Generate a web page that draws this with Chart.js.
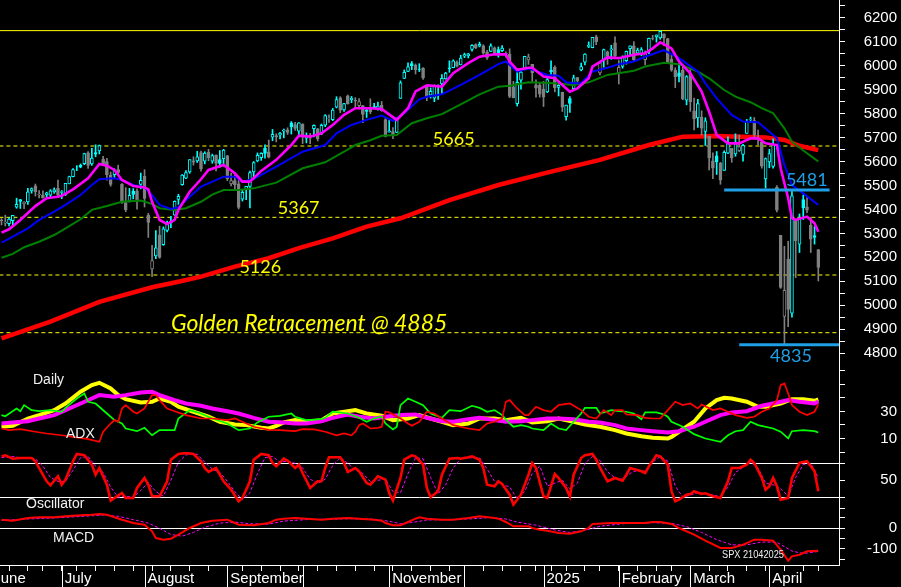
<!DOCTYPE html>
<html>
<head>
<meta charset="utf-8">
<script src="https://cdn.jsdelivr.net/npm/chart.js@4.4.1/dist/chart.umd.min.js"></script>
<style>
    html, body { margin: 0; padding: 0; background: #000; overflow: hidden; }
    #wrap { position: relative; width: 901px; height: 587px; background: #000; }
    #wrap canvas { position: absolute; left: 0; }
</style>
</head>
<body>
<div id="wrap">
    <canvas id="priceChart" width="901" height="365" style="top:0"></canvas>
    <canvas id="adxChart" width="901" height="87" style="top:365px"></canvas>
    <canvas id="oscChart" width="901" height="61" style="top:452px"></canvas>
    <canvas id="macdChart" width="901" height="74" style="top:513px"></canvas>
</div>
<script>
// ===== DATA (SPX daily, June 2024 - 21 April 2025) =====
var holidays = ['2024-06-19', '2024-07-04', '2024-09-02', '2024-11-28', '2024-12-25',
    '2025-01-01', '2025-01-09', '2025-01-20', '2025-02-17', '2025-04-18'];

var monthNames = {
    '2024-06': 'June', '2024-07': 'July', '2024-08': 'August', '2024-09': 'September',
    '2024-10': '', '2024-11': 'November', '2024-12': '', '2025-01': '2025',
    '2025-02': 'February', '2025-03': 'March', '2025-04': 'April'
};

var opens = [
    5297, 5278, 5314, 5357, 5343, 5341, 5353, 5409, 5441, 5424, 5431, 5477, 5499, 5461, 5459, 5461, 5460, 5473, 5488,
    5471, 5461, 5507, 5537, 5572, 5584, 5591, 5636, 5590, 5638, 5644, 5610, 5600, 5544, 5545, 5566, 5505, 5429, 5433, 5477, 5478, 5505,
    5538, 5376, 5151, 5206, 5293, 5253, 5312, 5351, 5376, 5442, 5503, 5531, 5557, 5603, 5603, 5637, 5602, 5639, 5602, 5626, 5608, 5612,
    5624, 5507, 5520, 5507, 5443, 5483, 5496, 5557, 5603, 5616, 5655, 5641, 5702, 5709, 5711, 5727, 5733, 5762, 5755, 5727,
    5757, 5698, 5698, 5737, 5737, 5714, 5752, 5779, 5775, 5827, 5866, 5816, 5875, 5859, 5857, 5833, 5834, 5816, 5827, 5830, 5819, 5835, 5775,
    5723, 5725, 5722, 5864, 5947, 5977, 6009, 6003, 5986, 5989, 5912, 5877, 5865, 5917, 5924, 5945, 5992, 5992, 6015, 6004,
    6040, 6042, 6069, 6089, 6082, 6083, 6057, 6060, 6075, 6068, 6063, 6052, 6048, 5912, 5842, 5940, 5985, 6025, 6006, 5921, 5920,
    5903, 5891, 5982, 5994, 5910, 5890, 5788, 5863, 5905, 5951, 5983, 6015, 6081, 6076, 6121, 5970, 6026, 6058, 6066, 6096,
    5970, 5998, 6021, 6072, 6083, 6053, 6049, 6026, 6060, 6115, 6121, 6117, 6134, 6114, 6027, 5982, 5971, 5981, 5857,
    5969, 5812, 5782, 5785, 5726, 5705, 5603, 5624, 5594, 5563, 5635, 5655, 5632, 5646, 5630, 5718, 5776, 5771, 5696, 5680, 5527,
    5598, 5580, 5492, 5292, 4953, 5193, 4967, 5353, 5255, 5441, 5411, 5335, 5291, 5232
];
var highs = [
    5302, 5298, 5354, 5362, 5376, 5365, 5375, 5447, 5442, 5433, 5488, 5490, 5506, 5479, 5478, 5472, 5483, 5490, 5523,
    5479, 5509, 5539, 5571, 5583, 5590, 5635, 5642, 5655, 5670, 5669, 5622, 5614, 5556, 5570, 5585, 5508, 5491, 5488, 5487, 5486, 5552,
    5566, 5384, 5250, 5312, 5330, 5327, 5351, 5371, 5436, 5463, 5546, 5562, 5608, 5620, 5643, 5644, 5641, 5651, 5631, 5628, 5646, 5651,
    5626, 5552, 5546, 5523, 5484, 5497, 5560, 5600, 5636, 5637, 5670, 5690, 5734, 5716, 5722, 5736, 5741, 5767, 5764, 5763,
    5758, 5720, 5718, 5753, 5739, 5757, 5796, 5795, 5822, 5871, 5871, 5843, 5878, 5872, 5867, 5863, 5834, 5817, 5862, 5843, 5848, 5851, 5780,
    5772, 5742, 5783, 5937, 5983, 6012, 6018, 6008, 6009, 5993, 5916, 5908, 5920, 5921, 5963, 5973, 6021, 6025, 6021, 6044,
    6053, 6052, 6089, 6092, 6099, 6088, 6065, 6092, 6079, 6079, 6085, 6058, 6071, 5935, 5982, 5978, 6040, 6049, 6006, 5941, 5929,
    5935, 5949, 6021, 6000, 5927, 5890, 5836, 5871, 5961, 5952, 6011, 6051, 6100, 6119, 6128, 6017, 6070, 6062, 6086, 6121,
    6022, 6042, 6062, 6084, 6101, 6074, 6076, 6063, 6116, 6127, 6129, 6147, 6134, 6115, 6044, 5992, 6009, 5994, 5959,
    5987, 5865, 5860, 5812, 5783, 5706, 5636, 5642, 5597, 5645, 5703, 5655, 5716, 5711, 5672, 5776, 5786, 5784, 5732, 5685, 5615,
    5651, 5695, 5500, 5292, 5246, 5267, 5481, 5353, 5381, 5460, 5450, 5367, 5328, 5232
];
var lows = [
    5234, 5257, 5299, 5335, 5331, 5331, 5331, 5405, 5404, 5403, 5421, 5468, 5456, 5448, 5447, 5446, 5452, 5467, 5451,
    5445, 5458, 5507, 5536, 5562, 5574, 5587, 5571, 5584, 5620, 5632, 5583, 5522, 5497, 5529, 5548, 5425, 5390, 5431, 5444, 5401, 5486,
    5410, 5283, 5119, 5194, 5196, 5250, 5306, 5324, 5376, 5421, 5501, 5528, 5551, 5585, 5596, 5560, 5590, 5603, 5593, 5561, 5576, 5581,
    5520, 5498, 5487, 5402, 5435, 5441, 5406, 5535, 5599, 5605, 5614, 5615, 5687, 5682, 5695, 5699, 5713, 5715, 5730, 5704,
    5675, 5678, 5675, 5703, 5686, 5712, 5746, 5763, 5771, 5824, 5804, 5809, 5840, 5846, 5824, 5820, 5762, 5784, 5800, 5822, 5815, 5810, 5703,
    5723, 5696, 5721, 5864, 5947, 5976, 5984, 5966, 5976, 5943, 5854, 5865, 5850, 5860, 5883, 5944, 5973, 5992, 5995, 6004,
    6034, 6033, 6061, 6072, 6079, 6048, 6027, 6059, 6051, 6036, 6059, 6036, 5867, 5866, 5832, 5902, 5983, 6006, 5933, 5869, 5869,
    5830, 5888, 5960, 5891, 5874, 5809, 5773, 5805, 5905, 5929, 5979, 6004, 6076, 6075, 6088, 5962, 5994, 6006, 6027, 6030,
    5924, 5990, 6007, 6046, 6020, 6048, 6042, 6004, 6051, 6108, 6099, 6111, 6084, 6009, 5977, 5909, 5933, 5858, 5837,
    5810, 5732, 5743, 5711, 5667, 5565, 5529, 5546, 5505, 5563, 5633, 5597, 5622, 5641, 5602, 5718, 5764, 5704, 5671, 5572, 5489,
    5574, 5572, 5390, 5070, 4835, 4910, 4950, 5115, 5220, 5358, 5386, 5220, 5255, 5101
];
var closes = [
    5283, 5291, 5354, 5352, 5347, 5360, 5375, 5421, 5433, 5431, 5473, 5487, 5473, 5464, 5448, 5469, 5478, 5482, 5460,
    5475, 5509, 5537, 5567, 5572, 5577, 5633, 5584, 5615, 5631, 5667, 5588, 5545, 5505, 5564, 5555, 5427, 5399, 5459, 5463, 5436, 5522,
    5446, 5346, 5186, 5240, 5199, 5319, 5344, 5344, 5434, 5455, 5543, 5554, 5608, 5597, 5620, 5570, 5635, 5616, 5625, 5592, 5592, 5648,
    5528, 5520, 5503, 5408, 5471, 5496, 5554, 5596, 5626, 5634, 5634, 5618, 5714, 5703, 5718, 5732, 5722, 5745, 5738, 5762,
    5709, 5710, 5700, 5751, 5696, 5751, 5792, 5780, 5815, 5859, 5815, 5842, 5841, 5864, 5853, 5851, 5797, 5809, 5808, 5823, 5832, 5813, 5705,
    5728, 5712, 5782, 5929, 5973, 5996, 6001, 5984, 5985, 5949, 5870, 5893, 5917, 5917, 5948, 5970, 5987, 6021, 5999, 6032,
    6047, 6050, 6086, 6075, 6090, 6053, 6034, 6084, 6051, 6051, 6074, 6050, 5872, 5867, 5931, 5974, 6040, 6037, 5971, 5907, 5882,
    5869, 5942, 5975, 5909, 5918, 5827, 5836, 5843, 5950, 5937, 5997, 6049, 6086, 6119, 6101, 6012, 6068, 6039, 6071, 6041,
    5994, 6037, 6061, 6083, 6026, 6066, 6068, 6051, 6115, 6114, 6129, 6144, 6117, 6013, 5983, 5955, 5956, 5861, 5955,
    5850, 5778, 5842, 5739, 5770, 5615, 5572, 5599, 5522, 5639, 5675, 5615, 5675, 5663, 5668, 5768, 5777, 5712, 5693, 5581, 5612,
    5633, 5671, 5397, 5074, 5062, 4982, 5457, 5268, 5363, 5406, 5397, 5276, 5283, 5158
];

// moving averages: [trading day index, value]
var ma200 = [[3,4861],[16,4931],[29,5014],[43,5075],[50,5098],[56,5119],[65,5161],[74,5196],[82,5238],[91,5279],[100,5328],[109,5363],[122,5439],[135,5502],[149,5558],[162,5607],[175,5669],[184,5704],[193,5707],[206,5701],[211,5690],[215,5666],[220,5648]];
var maGreen = [[3,5198],[6,5214],[9,5242],[13,5265],[17,5293],[20,5321],[24,5359],[27,5398],[31,5414],[35,5432],[40,5437],[43,5423],[45,5405],[49,5398],[52,5405],[56,5432],[59,5462],[62,5481],[66,5481],[70,5488],[76,5512],[83,5572],[89,5597],[94,5641],[97,5669],[101,5689],[104,5708],[108,5711],[112,5760],[116,5781],[120,5798],[125,5839],[130,5881],[135,5913],[138,5917],[143,5931],[150,5927],[155,5920],[159,5931],[164,5962],[171,5979],[174,5997],[179,6013],[183,6007],[188,5976],[191,5948],[195,5899],[198,5871],[202,5848],[205,5823],[208,5802],[211,5739],[213,5683],[217,5635],[220,5600]];
var maBlue = [[3,5261],[6,5286],[10,5321],[13,5356],[17,5391],[20,5419],[24,5460],[27,5502],[29,5526],[33,5530],[35,5523],[38,5502],[41,5492],[43,5460],[45,5419],[48,5402],[50,5409],[53,5453],[56,5495],[58,5509],[62,5537],[65,5537],[67,5516],[70,5527],[76,5579],[83,5641],[89,5669],[92,5718],[96,5753],[100,5774],[104,5792],[107,5770],[110,5802],[114,5860],[116,5871],[120,5881],[125,5920],[130,5962],[135,6007],[137,6018],[140,5976],[143,5990],[148,5962],[151,5959],[153,5931],[155,5927],[157,5927],[160,5976],[164,5992],[167,6007],[171,6018],[174,6038],[179,6066],[183,6032],[188,5976],[190,5927],[193,5864],[197,5795],[200,5767],[204,5764],[207,5725],[209,5697],[211,5586],[213,5502],[216,5467],[220,5419]];
var maMagenta = [[3,5303],[5,5317],[8,5356],[12,5414],[15,5447],[18,5453],[19,5457],[22,5484],[26,5530],[29,5590],[31,5583],[33,5565],[35,5523],[38,5498],[41,5492],[42,5484],[43,5432],[45,5356],[47,5339],[49,5356],[50,5398],[53,5474],[56,5526],[58,5565],[62,5586],[65,5551],[67,5516],[69,5516],[72,5561],[76,5607],[80,5669],[82,5708],[85,5704],[88,5718],[91,5753],[94,5795],[97,5823],[101,5823],[104,5820],[108,5774],[111,5823],[113,5893],[116,5918],[120,5913],[123,5969],[127,6011],[130,6038],[134,6048],[137,6048],[138,6018],[140,5983],[143,5992],[144,5992],[147,5955],[150,5948],[152,5920],[154,5892],[156,5906],[159,5948],[160,5997],[164,6035],[167,6032],[171,6046],[174,6052],[176,6073],[178,6098],[181,6073],[183,6018],[186,5969],[189,5892],[191,5808],[193,5711],[196,5676],[199,5676],[202,5697],[204,5697],[206,5676],[209,5669],[210,5572],[212,5447],[213,5363],[214,5356],[217,5370],[219,5342],[220,5307]];

// levels drawn on the price panel
var topLevel = 6147;
var fibLevels = [5665, 5367, 5126, 4885];
var supportLevels = [[5481, 195, 223], [4835, 199, 230]];

// ADX panel
var adxLine = [[3,18.7],[6,19.4],[10,24.8],[13,27.3],[17,31],[20,35.9],[24,44.6],[27,49.5],[29,51.2],[32,47],[34,42.1],[36,39.1],[40,36.7],[43,37.2],[45,39.6],[48,37.2],[50,33.5],[54,29.8],[58,26.1],[61,22.4],[65,20.4],[68,19.9],[72,17.9],[74,17.4],[76,19.4],[78,21.9],[81,23.6],[84,22.4],[88,23.6],[91,28.5],[95,30.2],[97,31],[100,28.5],[104,26.8],[107,23.6],[111,24.8],[114,27.3],[117,24.8],[120,22.4],[123,19.9],[127,21.1],[130,24.8],[134,24.8],[137,23.6],[141,25.3],[144,21.9],[148,22.8],[151,24.8],[155,22.4],[158,20.4],[162,18.7],[166,16.2],[169,13.7],[173,11.7],[176,10.5],[180,10],[181,11.2],[183,15],[187,22.4],[190,32.2],[193,38.4],[195,40.1],[197,39.6],[201,37.2],[204,33.5],[206,33.5],[210,35.9],[213,39.1],[216,39.1],[219,37.9],[220,38.9]];
var adxrLine = [[3,21.1],[6,21.9],[10,22.8],[13,24.8],[17,27.3],[20,31],[24,35.9],[27,39.6],[29,42.1],[33,40.9],[36,42.1],[40,44.1],[43,44.6],[45,42.1],[49,38.4],[52,35.9],[56,34.2],[59,32.2],[63,30.2],[66,28.5],[70,25.3],[74,22.4],[78,21.9],[81,21.1],[84,21.1],[88,22.8],[91,25.3],[95,27.8],[98,26.1],[102,24.8],[105,26.1],[109,27.3],[113,27.8],[116,25.3],[120,22.8],[123,22.4],[127,24.3],[130,25.3],[134,23.6],[137,22.4],[141,22.8],[144,23.6],[148,24.8],[151,24.8],[155,24.3],[159,22.4],[162,21.9],[166,19.9],[169,17.4],[173,16.2],[176,15.4],[180,14.4],[183,15.4],[187,18.7],[190,22.4],[194,27.3],[197,29.3],[201,30.2],[205,34.2],[208,35.9],[212,38.4],[215,37.2],[219,35.9],[220,37.4]];
var plusDi = [[3,27.3],[4,26.5],[7,32.2],[8,30.2],[9,34.7],[11,31],[13,30.2],[16,31],[19,29.8],[20,32.7],[23,39.6],[25,43.3],[26,37.2],[28,35.9],[31,28.5],[33,23.6],[35,21.1],[36,17.4],[39,15.4],[41,17.9],[43,12.4],[45,16.2],[49,16.2],[50,24.8],[53,31],[56,28.5],[59,24.8],[63,21.1],[66,16.2],[69,17.4],[71,21.9],[74,26.1],[77,26.8],[80,28.5],[81,26.1],[84,23.6],[88,24.3],[89,25.3],[91,29.8],[95,28.5],[98,25.3],[100,22.4],[102,24.8],[104,26.1],[105,21.1],[107,16.7],[108,18.7],[109,34.7],[111,39.6],[113,37.2],[115,34.7],[117,28.5],[120,25.3],[122,31],[125,30.2],[128,34.2],[130,32.7],[132,29.8],[134,31],[136,27.3],[138,21.1],[139,18.7],[141,19.9],[143,18.7],[144,17.4],[147,16.2],[149,21.1],[151,17.4],[153,16.2],[155,22.4],[157,28.5],[158,32.7],[161,32.7],[162,28.5],[165,31],[167,30.2],[169,29.8],[171,28.5],[173,24.3],[174,29.3],[177,29.3],[179,27.8],[180,26.1],[181,22.4],[184,18.7],[187,13.2],[190,10],[194,7.5],[196,12.4],[198,15.4],[200,16.2],[202,22.4],[204,19.9],[208,17.4],[210,15],[212,10],[213,15.4],[216,16.2],[219,15.4],[220,14.4]];
var minusDi = [[3,17.4],[5,16.2],[8,16.9],[12,15],[15,13.7],[19,12.4],[22,11.2],[26,9.5],[29,7.5],[30,15],[32,21.1],[33,23.6],[34,22.4],[35,32.2],[36,34.7],[38,29.8],[39,28.5],[41,32.2],[42,37.2],[43,42.1],[44,42.1],[45,38.4],[47,32.2],[49,30.2],[52,27.3],[56,24.8],[59,24.8],[63,23.6],[65,24.8],[67,22.4],[70,18.7],[74,16.4],[77,16.2],[81,15.4],[83,16.9],[86,16.7],[89,15],[92,12.4],[94,13.7],[96,12.4],[97,15],[98,19.9],[99,21.1],[101,17.4],[103,17.9],[104,18.7],[105,29.8],[106,29.3],[109,24.8],[111,21.1],[112,19.4],[114,22.4],[116,29.8],[118,28.5],[120,24.8],[123,19.9],[127,17.4],[130,16.2],[131,18.7],[132,21.1],[134,22.4],[136,24.8],[137,37.2],[138,38.4],[140,32.2],[142,27.3],[143,27.3],[145,33.5],[147,31],[149,29.8],[151,34.7],[154,35.9],[157,31],[159,26.1],[161,24.8],[163,31],[165,27.3],[166,31],[168,31],[169,27.8],[172,27.3],[174,25.3],[176,24.8],[178,24.8],[180,31],[182,37.2],[184,34.7],[186,35.9],[188,32.2],[189,35.2],[192,31],[194,32.2],[196,29.8],[198,27.3],[201,25.3],[203,26.1],[205,29.8],[207,32.2],[209,38.4],[210,49.5],[211,50.7],[212,43.3],[213,34.7],[215,29.8],[217,27.3],[219,29.8],[220,35.2]];

// Oscillator panel
var oscK = [[3,92.4],[4,94.2],[6,88.2],[8,89.4],[11,89.4],[12,83.6],[13,71.7],[15,48.2],[16,41.2],[18,57.1],[19,42.2],[20,51.1],[22,83.6],[23,96.5],[25,94.2],[27,77.6],[28,59.9],[29,71.7],[31,42.2],[32,14],[35,27.6],[36,18.7],[38,18.7],[39,36.4],[41,54.1],[42,42.2],[43,21.7],[45,21.7],[47,48.2],[48,86.4],[50,96.5],[52,98.2],[54,96.5],[56,83.6],[57,71.7],[58,64.7],[60,71.7],[62,48.2],[64,33.4],[66,12.9],[67,18.7],[69,48.2],[70,86.4],[72,96.5],[74,94.2],[75,80.6],[76,74.7],[78,88.2],[79,84.8],[81,71.7],[82,77.6],[83,62.9],[85,36.4],[87,48.2],[88,48.2],[89,71.7],[90,90.6],[93,90.6],[94,80.6],[95,64.7],[97,71.7],[98,65.9],[100,45.2],[101,42.2],[103,57.1],[105,51.1],[106,27.6],[107,14],[109,54.1],[110,86.4],[112,94.2],[113,92.4],[115,77.6],[116,36.4],[117,20],[119,30.6],[120,59.9],[122,88.2],[124,89.4],[125,88.2],[127,90.6],[128,92.4],[130,86.4],[131,71.7],[132,42.2],[134,39.4],[135,48.2],[136,43.5],[138,24.6],[139,6.9],[141,24.6],[143,59.9],[144,80.6],[145,71.7],[147,21.7],[148,18.7],[150,61.1],[151,54.1],[153,36.4],[154,21],[155,59.9],[157,89.4],[158,94.2],[160,96.5],[161,86.4],[162,72.3],[164,48.2],[166,54.1],[168,49.3],[169,59.9],[170,71.7],[173,65.9],[174,62.9],[175,74.7],[177,94.2],[178,92.4],[180,77.6],[181,30.6],[182,12.9],[183,15.7],[185,24.6],[186,25.8],[187,30.6],[189,25.8],[190,27],[192,21.7],[194,18.7],[196,48.2],[197,71.7],[199,71.7],[201,77.6],[202,86.4],[203,80.6],[205,54.1],[206,33.4],[207,39.4],[208,54.1],[209,39.4],[210,15.7],[212,18.7],[213,54.1],[215,80.6],[217,83.6],[219,65.9],[220,30.6]];
var oscD = [[3,90],[6,92],[9,89],[12,88],[14,75],[16,55],[18,48],[20,48],[22,68],[24,90],[26,92],[28,75],[30,64],[32,38],[34,20],[36,22],[38,20],[40,32],[42,46],[44,30],[46,22],[48,50],[50,82],[52,95],[55,96],[57,82],[59,70],[61,64],[63,48],[65,30],[67,16],[69,28],[71,62],[73,90],[75,92],[77,82],[79,84],[81,80],[83,72],[85,52],[87,44],[89,52],[91,76],[93,90],[95,80],[97,68],[99,62],[101,48],[103,50],[105,52],[107,30],[109,28],[111,62],[113,90],[115,88],[117,55],[119,26],[121,42],[123,72],[125,88],[128,90],[130,90],[132,70],[134,48],[136,43],[138,38],[140,18],[142,30],[144,62],[146,75],[148,40],[150,45],[152,50],[154,35],[156,45],[158,80],[160,92],[162,85],[164,65],[166,54],[168,52],[170,62],[172,68],[174,66],[176,82],[178,92],[180,84],[182,40],[184,20],[186,24],[188,28],[190,27],[192,24],[194,21],[196,38],[198,64],[200,73],[202,82],[204,72],[206,45],[208,42],[210,35],[212,22],[214,55],[216,78],[218,80],[220,55]];

// MACD panel
var macdLine = [[3,41.5],[6,36.7],[10,49.8],[13,53.1],[17,53.1],[20,58],[24,62.8],[27,65.7],[29,69.1],[31,65.7],[33,53.1],[35,41.5],[38,25.6],[41,17.4],[43,-14.5],[44,-46.9],[46,-55],[48,-50.2],[50,-30.9],[53,1.4],[56,25.6],[59,36.7],[63,41.5],[65,25.6],[66,17.4],[70,14.5],[74,25.6],[76,41.5],[78,46.4],[81,49.8],[84,46.4],[88,41.5],[91,46.4],[95,49.8],[98,46.4],[102,41.5],[104,36.7],[105,25.6],[107,14.5],[109,14.5],[111,30.4],[113,46.4],[114,53.1],[116,46.4],[120,41.5],[123,41.5],[127,49.8],[130,58],[134,49.8],[135,46.4],[137,30.4],[139,9.7],[143,9.7],[144,1.4],[146,-6.6],[148,-11.4],[151,-22.7],[154,-26],[157,-14.5],[159,1.4],[160,20.8],[165,25.6],[169,25.6],[174,25.6],[176,30.4],[178,30.4],[181,20.8],[183,1.4],[187,-30.9],[190,-59.9],[194,-95.2],[197,-95.2],[200,-79.2],[203,-55],[205,-55],[208,-59.9],[210,-103.4],[212,-156.5],[213,-135.3],[215,-127.5],[217,-111.1],[220,-108.2]];
var macdSignal = [[3,38],[10,45],[17,50],[24,57],[30,64],[34,58],[38,42],[42,25],[45,0],[48,-30],[51,-38],[54,-20],[57,5],[61,25],[65,30],[69,22],[74,20],[78,35],[84,42],[90,44],[96,46],[102,44],[106,34],[109,22],[112,28],[116,40],[122,42],[128,46],[133,52],[137,45],[140,30],[145,15],[150,-8],[154,-20],[158,-10],[162,10],[168,22],[176,27],[181,24],[185,8],[189,-20],[193,-55],[197,-80],[201,-80],[205,-66],[209,-68],[213,-110],[216,-122],[220,-112]];

// axis ticks
var priceTicks = [4800, 4900, 5000, 5100, 5200, 5300, 5400, 5500, 5600, 5700, 5800, 5900, 6000, 6100, 6200];
var adxTicks = [10, 20, 30, 40, 50, 60];
var adxLabels = [10, 30];
var oscTicks = [0, 20, 50, 80, 100];
var oscLabels = [50];
var macdTicks = [50, 0, -50, -100, -150];
var macdLabels = [0, -100];

// ===== STYLE =====
var CYAN = '#00ffff', GRAY = '#808080', YELLOW = '#ffff00', MAGENTA = '#ff00ff', BLUE = '#0000ff',
    GREEN = '#008000', RED = '#ff0000', LIME = '#00ff00', SKY = '#1e9fe6', WHITE = '#ffffff';
var X_MIN = 2.6, X_MAX = 225.5;

Chart.defaults.font.family = '"Liberation Sans", Arial, sans-serif';
Chart.defaults.color = WHITE;

// trading calendar -> month / week start indices
var tradingDays = [];
for (var d = new Date(Date.UTC(2024, 5, 3)); d <= new Date(Date.UTC(2025, 3, 21)); d.setUTCDate(d.getUTCDate() + 1)) {
    var dow = d.getUTCDay();
    var iso = d.toISOString().slice(0, 10);
    if (dow === 0 || dow === 6 || holidays.indexOf(iso) >= 0) continue;
    tradingDays.push({ iso: iso, dow: dow });
}
var monthStarts = [], weekStarts = [];
tradingDays.forEach(function(t, i) {
    var prev = tradingDays[i - 1];
    if (!prev || prev.iso.slice(0, 7) !== t.iso.slice(0, 7)) {
        monthStarts.push({ index: i, label: monthNames[t.iso.slice(0, 7)] });
    }
    if (!prev || t.dow <= prev.dow) weekStarts.push(i);
});

function pts(list) {
    return list.map(function(p) { return { x: p[0], y: p[1] }; });
}

function lineSet(list, color, width, order, dash) {
    return {
        type: 'line', data: pts(list), borderColor: color, borderWidth: width,
        borderDash: dash || [], pointRadius: 0, tension: 0, fill: false, order: order
    };
}

function hiddenX() {
    return { type: 'linear', min: X_MIN, max: X_MAX, display: false, offset: false, grid: { offset: false } };
}

// right axis: 58px wide + 4px layout padding, labels right-aligned at x=897
function rightAxis(min, max, ticks, labels, lineColor) {
    return {
        position: 'right', min: min, max: max,
        afterBuildTicks: function(s) { s.ticks = ticks.map(function(v) { return { value: v }; }); },
        afterFit: function(s) { s.width = 58; s.paddingTop = 0; s.paddingBottom = 0; },
        ticks: {
            autoSkip: false, color: WHITE, padding: 4, crossAlign: 'far', font: { size: 15 },
            callback: function(v) { return labels.indexOf(v) >= 0 ? String(v) : ''; }
        },
        grid: {
            drawOnChartArea: !!lineColor,
            color: function(c) { return lineColor && c.tick && lineColor.values.indexOf(c.tick.value) >= 0 ? WHITE : 'rgba(0,0,0,0)'; },
            drawTicks: true, tickLength: 6, tickColor: WHITE, lineWidth: 1
        },
        border: { display: true, color: WHITE, width: 1 }
    };
}

var baseOptions = {
    responsive: false, animation: false, devicePixelRatio: 1,
    layout: { padding: { left: 0, top: 0, bottom: 0, right: 4 } },
    plugins: { legend: { display: false }, tooltip: { enabled: false } },
    events: []
};

function textPlugin(id, draw) {
    return { id: id, afterDatasetsDraw: draw };
}

// ===== PRICE PANEL =====
var idx = closes.map(function(_, i) { return i; });
function candleColor(i) {
    var prev = i ? closes[i - 1] : opens[i];
    return closes[i] >= prev ? CYAN : GRAY;
}

var priceNotes = [
    { text: '5665', at: 117.6, level: 5665, dy: -1, color: YELLOW, font: '18px Lato' },
    { text: '5367', at: 76.4, level: 5367, dy: -3, color: YELLOW, font: '18px Lato' },
    { text: '5126', at: 66.2, level: 5126, dy: -2, color: YELLOW, font: '18px Lato' },
    { text: 'Golden Retracement @ 4885', at: 48, level: 4885, dy: -2, color: YELLOW, font: 'italic 23px Lato' },
    { text: '5481', at: 211.4, level: 5481, dy: -4, color: SKY, font: '18px Lato' },
    { text: '4835', at: 207.2, level: 4835, dy: 17, color: SKY, font: '18px Lato' }
];

var priceDatasets = [
    lineSet([[-5, topLevel], [230, topLevel]], YELLOW, 1, 20)
];
fibLevels.forEach(function(v) {
    priceDatasets.push(lineSet([[-5, v], [230, v]], YELLOW, 1, 20, [4, 3]));
});
priceDatasets.push(lineSet(ma200, RED, 4.5, 15));
priceDatasets.push({
    type: 'bar', order: 12, grouped: false, barThickness: 1,
    data: idx.map(function(i) { return { x: i, y: [lows[i], highs[i]] }; }),
    backgroundColor: idx.map(candleColor), borderWidth: 0
});
priceDatasets.push({
    type: 'bar', order: 11, grouped: false, barThickness: 3, borderSkipped: false,
    data: idx.map(function(i) { return { x: i, y: [opens[i], closes[i]] }; }),
    backgroundColor: idx.map(function(i) { return closes[i] < opens[i] ? candleColor(i) : '#000000'; }),
    borderColor: idx.map(candleColor), borderWidth: 1
});
priceDatasets.push(lineSet(maGreen, GREEN, 2, 8));
priceDatasets.push(lineSet(maBlue, BLUE, 2, 7));
priceDatasets.push(lineSet(maMagenta, MAGENTA, 2.6, 6));
supportLevels.forEach(function(s) {
    priceDatasets.push(lineSet([[s[1], s[0]], [s[2], s[0]]], SKY, 3, 2));
});

new Chart(document.getElementById('priceChart'), {
    type: 'bar',
    data: { datasets: priceDatasets },
    options: Object.assign({}, baseOptions, {
        scales: {
            x: hiddenX(),
            y: rightAxis(4750, 6275,
                priceTicks.concat(priceTicks.map(function(v) { return v + 50; })).sort(function(a, b) { return a - b; }),
                priceTicks, null)
        }
    }),
    plugins: [textPlugin('priceNotes', function(chart) {
        var ctx = chart.ctx, x = chart.scales.x, y = chart.scales.y;
        ctx.save();
        ctx.textBaseline = 'alphabetic';
        priceNotes.forEach(function(n) {
            ctx.font = n.font;
            ctx.fillStyle = n.color;
            ctx.fillText(n.text, x.getPixelForValue(n.at), y.getPixelForValue(n.level) + n.dy);
        });
        ctx.restore();
    })]
});

// ===== ADX PANEL =====
new Chart(document.getElementById('adxChart'), {
    type: 'line',
    data: {
        datasets: [
            lineSet(adxLine, YELLOW, 4, 6),
            lineSet(adxrLine, MAGENTA, 4, 5),
            lineSet(plusDi, LIME, 1.7, 4),
            lineSet(minusDi, RED, 1.7, 3)
        ]
    },
    options: Object.assign({}, baseOptions, {
        scales: { x: hiddenX(), y: rightAxis(0, 64.4, adxTicks, adxLabels, null) }
    }),
    plugins: [textPlugin('adxNotes', function(chart) {
        var ctx = chart.ctx;
        ctx.save();
        ctx.font = '14px "Liberation Sans"';
        ctx.fillStyle = '#f0f0f0';
        ctx.textBaseline = 'middle';
        ctx.fillText('Daily', 33, 15);
        ctx.fillText('ADX', 66, 69);
        ctx.restore();
    })]
});

// ===== OSCILLATOR PANEL =====
new Chart(document.getElementById('oscChart'), {
    type: 'line',
    data: {
        datasets: [
            lineSet(oscD, MAGENTA, 1, 4, [3, 2]),
            lineSet(oscK, RED, 2.6, 3)
        ]
    },
    options: Object.assign({}, baseOptions, {
        scales: { x: hiddenX(), y: rightAxis(-7.8, 100, oscTicks, oscLabels, { values: [20, 80] }) }
    }),
    plugins: [textPlugin('oscNotes', function(chart) {
        var ctx = chart.ctx;
        ctx.save();
        ctx.font = '14px "Liberation Sans"';
        ctx.fillStyle = '#f0f0f0';
        ctx.textBaseline = 'middle';
        ctx.fillText('Oscillator', 26, 52);
        ctx.restore();
    })]
});

// ===== MACD PANEL + DATE AXIS =====
new Chart(document.getElementById('macdChart'), {
    type: 'line',
    data: {
        datasets: [
            lineSet(macdSignal, MAGENTA, 1, 4, [3, 2]),
            lineSet(macdLine, RED, 2, 3)
        ]
    },
    options: Object.assign({}, baseOptions, {
        scales: {
            x: {
                type: 'linear', min: X_MIN, max: X_MAX, position: 'bottom', offset: false,
                afterBuildTicks: function(s) {
                    s.ticks = weekStarts.filter(function(i) { return i >= X_MIN && i <= X_MAX; })
                        .map(function(v) { return { value: v }; });
                },
                afterFit: function(s) { s.height = 22; s.paddingLeft = 0; s.paddingRight = 0; },
                ticks: { display: false },
                grid: { offset: false, drawOnChartArea: false, drawTicks: true, tickLength: 6, color: WHITE, tickColor: WHITE },
                border: { display: true, color: WHITE, width: 1 }
            },
            y: rightAxis(-177.3, 73.9, macdTicks, macdLabels, { values: [0] })
        }
    }),
    plugins: [{
        id: 'dateAxis',
        afterDraw: function(chart) {
            var ctx = chart.ctx, x = chart.scales.x, area = chart.chartArea;
            ctx.save();
            ctx.strokeStyle = WHITE;
            ctx.lineWidth = 1;
            monthStarts.forEach(function(m) {
                var px = Math.round(x.getPixelForValue(m.index)) + 0.5;
                if (px < 0 || px > area.right) return;
                ctx.beginPath();
                ctx.moveTo(px, area.bottom);
                ctx.lineTo(px, chart.height);
                ctx.stroke();
            });
            ctx.font = '15px "Liberation Sans"';
            ctx.fillStyle = WHITE;
            ctx.textBaseline = 'middle';
            monthStarts.forEach(function(m) {
                if (m.label) ctx.fillText(m.label, x.getPixelForValue(m.index) + 3, 66);
            });
            ctx.font = '14px "Liberation Sans"';
            ctx.fillStyle = '#f0f0f0';
            ctx.fillText('MACD', 53, 25);
            ctx.font = '10px "Liberation Sans"';
            ctx.fillText('SPX 21042025', 722, 42, 62);
            ctx.restore();
        }
    }]
});
</script>
</body>
</html>
